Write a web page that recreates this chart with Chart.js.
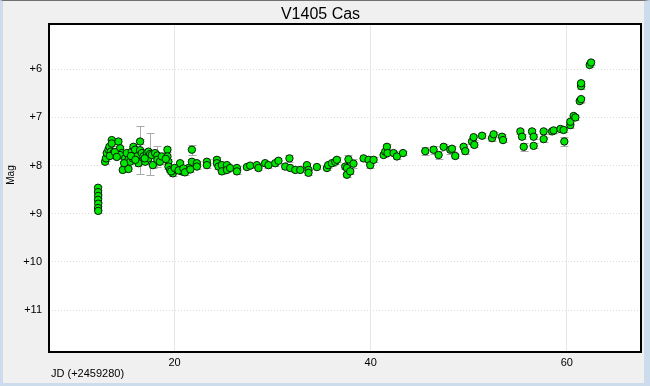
<!DOCTYPE html>
<html>
<head>
<meta charset="utf-8">
<title>V1405 Cas</title>
<script src="https://cdn.jsdelivr.net/npm/chart.js@4.4.1/dist/chart.umd.min.js"></script>
<style>
  html, body { margin: 0; padding: 0; background: #f0f0f0; }
  #wrap { position: relative; width: 650px; height: 386px; overflow: hidden; }
  #wrap canvas { position: absolute; left: 0; top: 0; }
  #frame {
    position: absolute; left: 0; top: 0; width: 650px; height: 386px;
    box-sizing: border-box; pointer-events: none;
    border-top: 1px solid #707070;
    border-left: 3px solid #cddcec;
    border-right: 6px solid #cddcec;
    border-bottom: 3px solid #cddcec;
  }
</style>
</head>
<body>
<div id="wrap">
  <canvas id="lightCurve" width="650" height="386"></canvas>
  <div id="frame"></div>
</div>
<script>
// JD - 2459280
const jd = [
  12.19, 12.19, 12.21, 12.19, 12.21, 12.19, 12.21, 12.91, 13.00, 13.08,
  13.25, 13.35, 13.59, 13.59, 13.49, 13.76, 14.27, 14.44, 14.61, 14.44,
  14.71, 14.95, 15.12, 15.29, 15.46, 15.29, 15.63, 15.73, 15.80, 15.97,
  16.14, 16.31, 16.48, 16.48, 16.65, 16.82, 17.00, 17.16, 17.33, 17.33,
  17.50, 17.67, 17.78, 18.01, 18.24, 18.24, 18.50, 18.69, 19.27, 19.27,
  19.37, 19.37, 19.54, 19.82, 20.22, 20.56, 20.73, 21.24, 21.41, 21.76,
  21.76, 22.27, 22.27, 23.29, 23.29, 24.31, 24.31, 24.47, 24.82, 24.82,
  25.33, 25.33, 25.66, 26.35, 26.35, 27.37, 27.70, 28.39, 28.55, 29.23,
  29.57, 30.26, 30.59, 31.28, 31.71, 31.79, 32.30, 32.81, 33.49, 33.65,
  33.65, 34.51, 35.53, 35.66, 36.04, 36.38, 36.55, 37.40, 37.57, 37.57,
  37.73, 37.91, 38.24, 39.27, 39.78, 39.95, 40.29, 41.31, 41.48, 41.65,
  41.71, 42.33, 42.67, 43.29, 45.56, 46.41, 46.92, 47.43, 48.11, 48.28,
  48.62, 49.47, 49.64, 50.33, 50.49, 50.56, 51.35, 52.37, 52.53, 53.39,
  53.49, 55.26, 55.43, 55.60, 56.45, 56.61, 56.61, 57.63, 57.63, 58.49,
  58.65, 59.34, 59.67, 59.74, 60.35, 60.35, 60.69, 60.87, 61.31, 61.45,
  61.45, 61.45, 62.33, 62.47,
  13.40, 13.90, 14.10, 14.85, 15.55, 16.00, 16.95, 19.10, 19.65, 20.00,
  20.40, 20.90, 21.05, 21.60
];
const mag = [
  8.46, 8.55, 8.63, 8.71, 8.79, 8.88, 8.94, 7.92, 7.85, 7.74,
  7.67, 7.61, 7.47, 7.54, 7.71, 7.74, 7.50, 7.64, 7.74, 7.78,
  8.09, 7.85, 7.74, 7.88, 7.92, 8.07, 7.71, 7.85, 7.61, 7.67,
  7.81, 7.95, 7.68, 7.50, 7.74, 7.81, 7.92, 7.74, 7.71, 7.85,
  7.76, 7.78, 7.99, 7.74, 7.79, 7.88, 7.92, 7.81, 7.67, 7.81,
  7.92, 8.02, 8.09, 8.16, 8.09, 7.95, 8.12, 8.09, 8.05, 7.67,
  7.92, 7.95, 8.02, 7.92, 7.99, 7.88, 7.95, 8.02, 7.99, 8.12,
  7.99, 8.09, 8.05, 8.05, 8.12, 8.03, 8.00, 7.99, 8.05, 7.95,
  7.99, 7.95, 7.90, 8.02, 7.85, 8.05, 8.09, 8.09, 7.99, 8.09,
  8.15, 8.03, 8.05, 7.99, 7.95, 7.92, 7.88, 8.02, 8.05, 8.19,
  7.87, 8.12, 7.96, 7.85, 7.88, 7.99, 7.88, 7.78, 7.71, 7.61,
  7.74, 7.74, 7.81, 7.74, 7.70, 7.67, 7.78, 7.61, 7.67, 7.65,
  7.80, 7.61, 7.70, 7.50, 7.41, 7.57, 7.38, 7.43, 7.35, 7.40,
  7.47, 7.29, 7.40, 7.61, 7.29, 7.40, 7.59, 7.29, 7.45, 7.29,
  7.27, 7.24, 7.26, 7.50, 7.16, 7.09, 6.97, 7.00, 6.66, 6.62,
  6.35, 6.29, 5.91, 5.86,
  7.80, 7.72, 7.82, 7.95, 7.80, 7.88, 7.85, 7.86, 8.12, 8.05,
  8.10, 8.06, 8.14, 8.08
];
const err = [
  0.04, 0.04, 0.04, 0.04, 0.04, 0.04, 0.04, 0.05, 0.05, 0.05,
  0.05, 0.05, 0.05, 0.05, 0.05, 0.05, 0.05, 0.05, 0.05, 0.05,
  0.05, 0.05, 0.05, 0.05, 0.05, 0.05, 0.05, 0.05, 0.05, 0.05,
  0.05, 0.05, 0.50, 0.05, 0.05, 0.05, 0.05, 0.05, 0.05, 0.05,
  0.43, 0.05, 0.05, 0.05, 0.20, 0.15, 0.05, 0.05, 0.05, 0.05,
  0.05, 0.05, 0.05, 0.05, 0.05, 0.05, 0.05, 0.05, 0.05, 0.10,
  0.05, 0.05, 0.05, 0.05, 0.05, 0.05, 0.05, 0.05, 0.05, 0.05,
  0.05, 0.05, 0.05, 0.05, 0.05, 0.05, 0.05, 0.05, 0.05, 0.05,
  0.05, 0.05, 0.05, 0.05, 0.08, 0.05, 0.05, 0.05, 0.05, 0.05,
  0.05, 0.05, 0.05, 0.05, 0.05, 0.05, 0.05, 0.05, 0.05, 0.05,
  0.08, 0.05, 0.10, 0.05, 0.05, 0.05, 0.05, 0.05, 0.05, 0.05,
  0.05, 0.05, 0.05, 0.05, 0.08, 0.08, 0.08, 0.05, 0.08, 0.05,
  0.05, 0.05, 0.05, 0.05, 0.05, 0.05, 0.05, 0.05, 0.05, 0.05,
  0.05, 0.05, 0.05, 0.08, 0.05, 0.05, 0.05, 0.05, 0.05, 0.05,
  0.05, 0.05, 0.05, 0.10, 0.05, 0.05, 0.05, 0.05, 0.05, 0.05,
  0.05, 0.05, 0.05, 0.05,
  0.05, 0.05, 0.05, 0.05, 0.05, 0.05, 0.05, 0.05, 0.05, 0.05,
  0.05, 0.05, 0.05, 0.05
];
const xTicks = [20, 40, 60];
const yTicks = [6, 7, 8, 9, 10, 11];

const FONT = "'Liberation Sans', Arial, sans-serif";

// white plot background, black frame and axis captions
const plotFrame = {
  id: 'plotFrame',
  beforeDraw(chart) {
    const c = chart.ctx, a = chart.chartArea;
    c.save();
    c.fillStyle = '#ffffff';
    c.fillRect(a.left, a.top, a.right - a.left, a.bottom - a.top);
    c.restore();
  },
  afterDraw(chart) {
    const c = chart.ctx, a = chart.chartArea;
    c.save();
    c.strokeStyle = '#000000';
    c.lineWidth = 2;
    c.strokeRect(a.left, a.top, a.right - a.left, a.bottom - a.top);
    c.fillStyle = '#000000';
    c.font = '11px ' + FONT;
    c.textBaseline = 'middle';
    c.textAlign = 'left';
    c.fillText('JD (+2459280)', 51, 374);
    c.translate(11, 175);
    c.rotate(-Math.PI / 2);
    c.textAlign = 'center';
    c.font = '10px ' + FONT;
    c.fillText('Mag', 0, 0);
    c.restore();
  }
};

// grey error bars with caps, drawn under the points
const errorBars = {
  id: 'errorBars',
  beforeDatasetsDraw(chart) {
    const c = chart.ctx, a = chart.chartArea;
    const xs = chart.scales.x, ys = chart.scales.y;
    c.save();
    c.beginPath();
    c.rect(a.left, a.top, a.right - a.left, a.bottom - a.top);
    c.clip();
    c.strokeStyle = '#a9a9a9';
    c.lineWidth = 1;
    c.beginPath();
    for (let i = 0; i < jd.length; i++) {
      const px = Math.round(xs.getPixelForValue(jd[i])) + 0.5;
      const y1 = Math.round(ys.getPixelForValue(mag[i] - err[i])) + 0.5;
      const y2 = Math.round(ys.getPixelForValue(mag[i] + err[i])) + 0.5;
      c.moveTo(px, y1); c.lineTo(px, y2);
      c.moveTo(px - 4, y1); c.lineTo(px + 4, y1);
      c.moveTo(px - 4, y2); c.lineTo(px + 4, y2);
    }
    c.stroke();
    c.restore();
  }
};

const ctx = document.getElementById('lightCurve').getContext('2d');
const chart = new Chart(ctx, {
  type: 'scatter',
  data: {
    datasets: [{
      label: 'V1405 Cas',
      data: jd.map((x, i) => ({ x: x, y: mag[i] })),
      pointRadius: 3.7,
      pointHoverRadius: 3.7,
      borderWidth: 1,
      backgroundColor: '#00e600',
      borderColor: '#081c08'
    }]
  },
  options: {
    responsive: false,
    animation: false,
    events: [],
    layout: { padding: { left: 0, right: 9, top: 0, bottom: 0 } },
    plugins: {
      legend: { display: false },
      tooltip: { enabled: false },
      title: {
        display: true,
        text: 'V1405 Cas',
        color: '#000000',
        font: { family: FONT, size: 16, weight: 'normal', lineHeight: 1 },
        padding: { top: 7, bottom: 1 }
      }
    },
    scales: {
      x: {
        type: 'linear',
        min: 7.19,
        max: 67.56,
        afterFit(scale) { scale.height = 34; },
        afterBuildTicks(scale) { scale.ticks = xTicks.map(v => ({ value: v })); },
        ticks: {
          padding: 4,
          color: '#000000',
          font: { family: FONT, size: 11 }
        },
        grid: { color: '#e6e6e6', drawTicks: false },
        border: { display: false }
      },
      y: {
        type: 'linear',
        reverse: true,
        min: 5.06,
        max: 11.87,
        afterFit(scale) { scale.width = 49; },
        afterBuildTicks(scale) { scale.ticks = yTicks.map(v => ({ value: v })); },
        ticks: {
          padding: 7,
          color: '#000000',
          font: { family: FONT, size: 11 },
          callback: (v) => '+' + v
        },
        grid: { color: '#dcdcdc', drawTicks: false },
        border: { display: false, dash: [1, 2] }
      }
    }
  },
  plugins: [plotFrame, errorBars]
});
</script>
</body>
</html>
